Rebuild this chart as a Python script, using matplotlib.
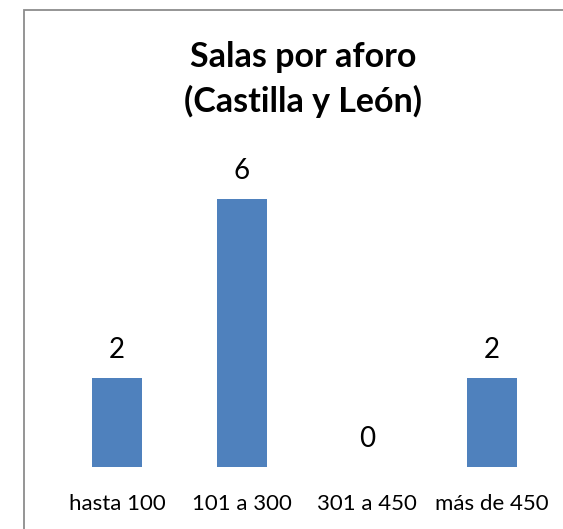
import matplotlib
matplotlib.use("Agg")
import matplotlib.pyplot as plt
from matplotlib.patches import Rectangle

categories = ["hasta 100", "101 a 300", "301 a 450", "más de 450"]
values = [2, 6, 0, 2]
title_lines = ["Salas por aforo", "(Castilla y León)"]

W, H = 563, 529
plt.rcParams["font.family"] = ["Lato", "DejaVu Sans"]
fig = plt.figure(figsize=(W / 100, H / 100), dpi=100)

# outer chart frame (only left/top edges fall inside the picture)
fig.patches.append(Rectangle((24 / W, -0.1), 1.2, (H - 10) / H + 0.1, transform=fig.transFigure,
                             fill=False, edgecolor="#8c8c8c", linewidth=1.3))

ax = fig.add_axes([54.5 / W, (H - 467) / H, 500 / W, 0.5902])
x = range(len(categories))
ax.bar(x, values, width=0.4, color="#4f81bd")
ax.set_xlim(-0.5, len(categories) - 0.5)
ax.set_ylim(0, 7)
for s in ax.spines.values():
    s.set_visible(False)
ax.set_yticks([])
ax.set_xticks(list(x))
ax.set_xticklabels(categories, fontsize=16)
for lbl in ax.get_xticklabels():
    lbl.set_va("baseline")
ax.tick_params(axis="x", length=0, pad=31)
for xi, v in zip(x, values):
    ax.annotate(str(v), (xi, v), xytext=(0, 14.4), textcoords="offset points",
                ha="center", va="baseline", fontsize=20)

fig.text(303 / W, 1 - 67 / H, title_lines[0], ha="center", va="baseline",
         fontsize=24.5, fontweight="bold")
fig.text(303 / W, 1 - 112 / H, title_lines[1], ha="center", va="baseline",
         fontsize=24.5, fontweight="bold")

fig.savefig("out.png", dpi=100)
